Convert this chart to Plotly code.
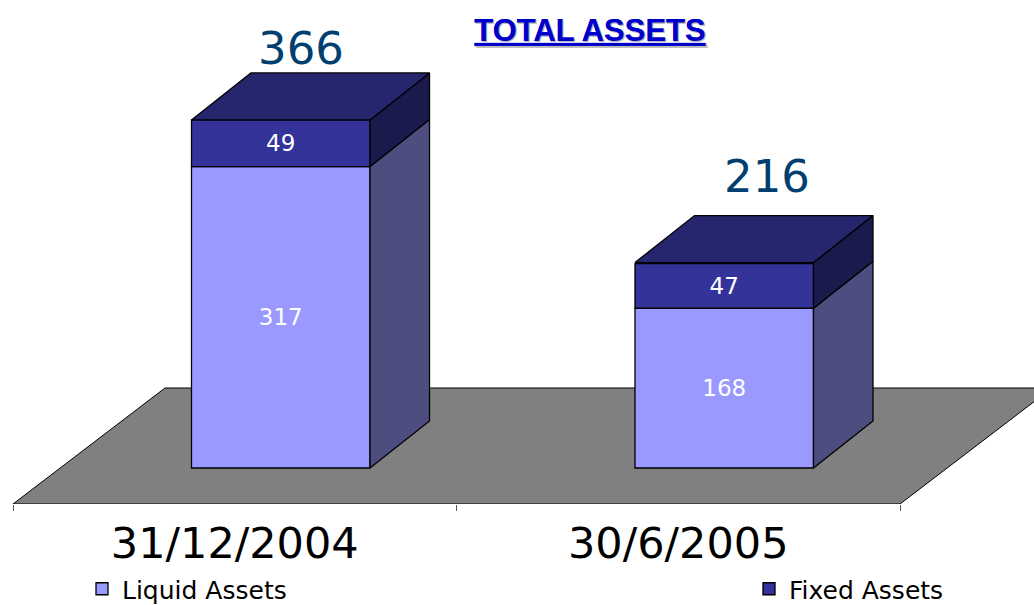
import plotly.graph_objects as go

categories = ["31/12/2004", "30/6/2005"]
liquid = [317, 168]
fixed = [49, 47]
totals = [366, 216]

W, H = 1034, 605
PX_X = 443.5      # pixels per category band
PX_Y = 0.951      # pixels per value unit
LEFT = 13
FLOOR_PX = 504
BASE_PX = 468
BAR_W = 178.5 / PX_X
BAR_SHIFT = 46 / PX_X
DX, DY = 59.5 / PX_X, 47 / PX_Y                 # bar depth
FDX, FDY = 152 / PX_X, 116 / PX_Y               # floor depth
Y0 = -(FLOOR_PX - BASE_PX) / PX_Y

band = list(range(len(categories) + 1))
centers = [i + 0.5 for i in range(len(categories))]
bar_x = [c + BAR_SHIFT for c in centers]

FONT = "DejaVu Sans"
COL_LIQUID, COL_FIXED = "#9999FF", "#333399"
COL_SIDE_L, COL_SIDE_F, COL_TOP = "#4D4D80", "#1A1A4D", "#26266F"
EDGE = dict(color="black", width=1.3)

fig = go.Figure()

for name, vals, col, base, leg in [
    ("Liquid Assets", liquid, COL_LIQUID, None, "legend"),
    ("Fixed Assets", fixed, COL_FIXED, liquid, "legend2"),
]:
    fig.add_bar(
        name=name, x=bar_x, y=vals, base=base if base else [0] * len(vals), width=BAR_W,
        marker=dict(color=col, line=EDGE), legend=leg,
        text=[str(v) for v in vals], textposition="inside", insidetextanchor="middle",
        textangle=0, textfont=dict(family=FONT, size=23, color="white"),
        hoverinfo="skip",
    )


def faces(lo, hi):
    xs, ys = [], []
    for x, a, b in zip(bar_x, lo, hi):
        r = x + BAR_W / 2
        xs += [r, r + DX, r + DX, r, r, None]
        ys += [a, a + DY, b + DY, b, a, None]
    return xs, ys


for lo, hi, col in [([0, 0], liquid, COL_SIDE_L), (liquid, totals, COL_SIDE_F)]:
    xs, ys = faces(lo, hi)
    fig.add_scatter(x=xs, y=ys, mode="lines", fill="toself", fillcolor=col, line=EDGE,
                    showlegend=False, hoverinfo="skip")

tx, ty = [], []
for x, t in zip(bar_x, totals):
    l, r = x - BAR_W / 2, x + BAR_W / 2
    tx += [l, l + DX, r + DX, r, l, None]
    ty += [t, t + DY, t + DY, t, t, None]
fig.add_scatter(x=tx, y=ty, mode="lines", fill="toself", fillcolor=COL_TOP, line=EDGE,
                showlegend=False, hoverinfo="skip")

floor_path = (
    f"M {band[0]} {Y0} L {band[0] + FDX} {Y0 + FDY} "
    f"L {band[-1] + FDX} {Y0 + FDY} L {band[-1]} {Y0} Z"
)
fig.add_shape(type="path", path=floor_path, xref="x", yref="y", layer="below",
              fillcolor="#808080", line=dict(color="black", width=1))

for x, t, xs, ys in zip(bar_x, totals, [20, 43], [71, 86]):
    fig.add_annotation(x=x, y=t, text=str(t), showarrow=False, xshift=xs, yshift=ys,
                       font=dict(family=FONT, size=45, color="#003F6F"))

legend_common = dict(
    orientation="h", yanchor="middle", bgcolor="rgba(0,0,0,0)",
    font=dict(family=FONT, size=25, color="black"),
)

fig.update_layout(
    width=W, height=H, margin=dict(l=0, r=0, t=0, b=0, autoexpand=False),
    paper_bgcolor="white", plot_bgcolor="rgba(0,0,0,0)",
    barmode="overlay", showlegend=True,
    title=dict(
        text="TOTAL ASSETS", x=590 / W, y=1 - 30 / H, xanchor="center", yanchor="middle",
        font=dict(family="Liberation Sans", size=31, weight="bold", color="#0000CC",
                  lineposition="under", shadow="1px 1px 0px #BBBBBB"),
    ),
    legend=dict(x=82 / W, y=16 / H, xanchor="left", **legend_common),
    legend2=dict(x=749 / W, y=16 / H, xanchor="left", **legend_common),
    xaxis=dict(
        range=[-LEFT / PX_X, (W - LEFT) / PX_X], domain=[0, 1],
        tickmode="array", tickvals=centers, ticktext=categories,
        ticks="", showgrid=False, zeroline=False, showline=False,
        tickfont=dict(family=FONT, size=43, color="black"), ticklabelstandoff=10,
        minor=dict(tickmode="array", tickvals=band, ticks="outside", ticklen=6,
                   tickcolor="#555555", tickwidth=1, showgrid=False),
    ),
    yaxis=dict(
        range=[Y0, BASE_PX / PX_Y], domain=[(H - FLOOR_PX) / H, 1],
        visible=False, showgrid=False, zeroline=False,
    ),
)

fig.write_html("out.html", post_script="document.body.style.margin='0';",
               config={"displayModeBar": False})
